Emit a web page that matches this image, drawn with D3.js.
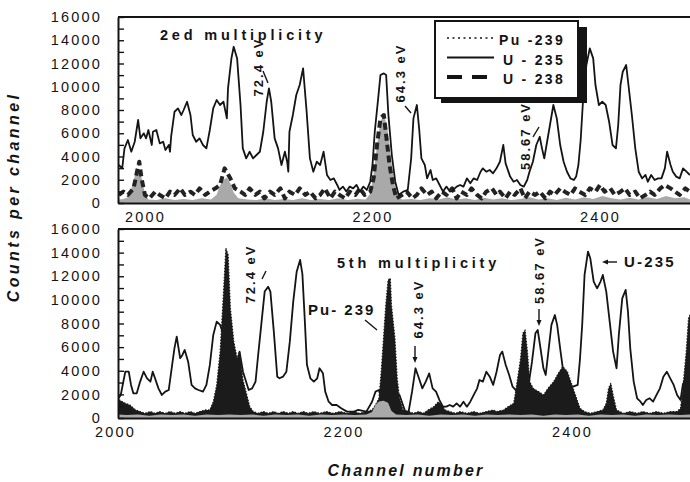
<!DOCTYPE html>
<html>
<head>
<meta charset="utf-8">
<script src="https://cdn.jsdelivr.net/npm/d3@7/dist/d3.min.js"></script>
<style>
  body { margin: 0; background: #fff; }
  svg { display: block; font-family: "Liberation Sans", Arial, sans-serif; }
</style>
</head>
<body>
<div id="vis"></div>
<script>
////////////////////////////////////////
//////////////// Data //////////////////
////////////////////////////////////////

// [channel, counts]

// 2ed multiplicity
const topU235 = [[1977,3270],[1980,2980],[1982,4700],[1985,5420],[1988,4410],[1991,5270],[1994,7140],[1996,5560],[1999,5990],[2001,5560],[2003,6280],[2006,4990],[2007,6130],[2010,6280],[2013,5130],[2016,5270],[2018,4560],[2021,4990],[2022,4410],[2023,5700],[2026,7850],[2029,8140],[2032,7570],[2034,8000],[2037,8710],[2040,7570],[2042,5850],[2045,5270],[2048,5560],[2051,4990],[2054,4700],[2057,6280],[2060,8140],[2063,8860],[2066,8430],[2069,8710],[2072,7280],[2073,9860],[2076,12440],[2078,13440],[2081,12440],[2084,8430],[2086,4700],[2089,3840],[2092,4410],[2095,3840],[2098,4130],[2101,4410],[2104,6130],[2107,8710],[2109,9860],[2111,8710],[2114,5560],[2117,4700],[2120,3270],[2123,4410],[2125,3550],[2126,2690],[2127,6130],[2130,7570],[2133,9290],[2136,10150],[2139,11580],[2142,8000],[2145,3840],[2148,2690],[2151,3550],[2154,3270],[2157,4410],[2160,2410],[2163,1980],[2166,2120],[2169,1550],[2171,1120],[2174,1410],[2177,980],[2180,1410],[2183,1260],[2186,1550],[2189,980],[2192,1410],[2195,1120],[2198,1830],[2200,3270],[2202,6130],[2205,9000],[2207,11010],[2210,11150],[2212,11010],[2214,7570],[2217,4130],[2220,1830],[2223,690],[2227,980],[2231,1120],[2234,3840],[2236,7280],[2239,8430],[2241,6420],[2243,3840],[2246,3270],[2248,2120],[2251,2840],[2253,1980],[2256,2120],[2259,1550],[2262,980],[2265,1410],[2268,980],[2271,1120],[2274,1410],[2277,1550],[2280,1410],[2283,2120],[2286,1690],[2289,2120],[2292,1980],[2295,2690],[2297,2980],[2300,2690],[2303,2840],[2306,2550],[2309,2980],[2312,3550],[2315,4990],[2317,3410],[2321,2270],[2324,1830],[2327,1980],[2330,1550],[2333,1410],[2336,1980],[2338,2690],[2341,3550],[2344,4990],[2347,5700],[2349,4700],[2351,3840],[2353,4990],[2356,6710],[2359,8430],[2362,7280],[2365,4990],[2368,3550],[2371,2690],[2374,2120],[2377,1980],[2379,2270],[2381,3270],[2383,5420],[2385,8710],[2388,11870],[2391,13300],[2394,12440],[2396,10150],[2399,8430],[2402,8710],[2405,8430],[2408,6990],[2411,4990],[2414,4700],[2416,6710],[2418,10150],[2420,11290],[2423,11870],[2425,10150],[2428,7570],[2431,4700],[2434,2690],[2437,2120],[2440,2410],[2442,1830],[2445,2410],[2448,1980],[2451,2120],[2454,2120],[2457,2980],[2459,4410],[2462,3270],[2464,2690],[2467,2270],[2470,2120],[2473,2980],[2476,2690],[2479,2410]];

const topPu239 = [[1977,300],[1981,350],[1985,500],[1988,1200],[1991,2300],[1994,2800],[1997,2200],[2000,800],[2003,300],[2010,250],[2018,400],[2026,250],[2034,350],[2042,250],[2050,400],[2058,300],[2063,700],[2066,1500],[2069,2000],[2072,2200],[2075,1700],[2078,900],[2082,400],[2090,300],[2098,250],[2106,400],[2114,250],[2122,350],[2130,250],[2138,400],[2146,250],[2154,350],[2162,250],[2170,400],[2178,250],[2186,350],[2194,300],[2198,800],[2201,2500],[2204,5000],[2207,7000],[2210,7600],[2213,6500],[2216,4000],[2219,1800],[2222,600],[2226,300],[2234,350],[2242,250],[2250,400],[2258,300],[2266,500],[2274,300],[2282,400],[2290,250],[2298,450],[2306,300],[2314,400],[2322,250],[2330,350],[2338,500],[2346,300],[2354,400],[2362,250],[2370,450],[2378,300],[2386,500],[2394,350],[2402,600],[2410,400],[2418,300],[2426,450],[2434,300],[2442,500],[2450,350],[2458,600],[2466,400],[2474,500],[2479,300]];

const topU238 = [[1977,690],[1981,975],[1985,690],[1990,1260],[1993,2690],[1995,3550],[1997,2120],[2000,690],[2004,400],[2009,975],[2013,690],[2018,400],[2022,975],[2026,690],[2031,1260],[2035,690],[2040,975],[2044,690],[2048,1260],[2053,690],[2057,975],[2062,1260],[2066,1550],[2070,2980],[2075,2120],[2079,1260],[2084,975],[2088,690],[2092,1260],[2097,690],[2101,975],[2105,400],[2110,975],[2114,690],[2119,1260],[2123,400],[2127,975],[2132,690],[2136,1260],[2141,690],[2145,975],[2150,400],[2154,690],[2158,1260],[2163,400],[2167,975],[2171,690],[2176,400],[2180,975],[2185,690],[2189,1260],[2193,690],[2198,975],[2201,2120],[2204,4990],[2207,7280],[2210,7570],[2213,4990],[2215,3270],[2218,1550],[2221,400],[2226,690],[2230,975],[2235,400],[2239,690],[2243,1260],[2248,690],[2252,975],[2256,400],[2261,975],[2265,690],[2270,1260],[2274,400],[2278,975],[2283,690],[2287,1260],[2292,690],[2296,400],[2300,975],[2305,1260],[2309,690],[2312,975],[2317,400],[2321,975],[2325,690],[2330,1260],[2334,400],[2338,975],[2343,690],[2347,975],[2352,400],[2356,975],[2360,690],[2365,1260],[2369,975],[2374,690],[2378,1260],[2382,975],[2387,690],[2391,1260],[2396,975],[2400,1550],[2404,975],[2409,1260],[2413,690],[2418,975],[2422,1260],[2426,690],[2431,975],[2435,400],[2440,690],[2444,975],[2448,690],[2453,1260],[2457,1550],[2462,1260],[2466,975],[2470,690],[2475,1260],[2479,975]];

// 5th multiplicity
const botU235 = [[2003,1670],[2005,1950],[2009,3920],[2012,3920],[2014,2800],[2016,2090],[2019,2090],[2022,3080],[2025,3920],[2028,3360],[2031,3080],[2033,3920],[2035,3360],[2038,2510],[2041,1950],[2044,2230],[2047,2370],[2050,4490],[2052,5900],[2054,6890],[2057,5060],[2059,5340],[2061,5760],[2064,4770],[2067,2800],[2070,2510],[2073,2370],[2077,2230],[2080,2800],[2083,4490],[2086,7030],[2089,8160],[2092,7880],[2095,7030],[2101,5060],[2105,3920],[2109,5620],[2112,3920],[2117,2370],[2120,2510],[2123,3080],[2125,5060],[2128,7880],[2131,10700],[2134,11120],[2136,10700],[2139,7310],[2142,3500],[2144,3360],[2147,3500],[2150,3920],[2153,6460],[2156,9850],[2159,12390],[2162,13380],[2164,12200],[2166,8500],[2168,4500],[2171,3360],[2174,3080],[2177,3360],[2179,4210],[2182,3780],[2184,2230],[2187,1380],[2190,1100],[2194,1100],[2198,820],[2203,540],[2209,540],[2213,680],[2220,540],[2225,1380],[2228,2230],[2231,2370],[2233,1670],[2241,1400],[2249,1950],[2254,540],[2257,540],[2260,2230],[2263,4210],[2266,3360],[2269,2510],[2272,3080],[2275,3780],[2278,2510],[2281,2230],[2284,1520],[2287,960],[2290,960],[2293,1100],[2296,960],[2299,1240],[2302,960],[2305,1380],[2308,960],[2311,1380],[2314,1950],[2317,2510],[2319,3220],[2322,3080],[2325,3920],[2328,3500],[2331,2800],[2334,3920],[2337,5340],[2339,5620],[2342,4490],[2345,3640],[2348,2650],[2352,2230],[2357,2000],[2362,2800],[2365,4770],[2368,7170],[2370,7450],[2372,6180],[2375,4210],[2377,3640],[2379,5340],[2382,7880],[2385,8720],[2387,7880],[2390,5620],[2392,4210],[2397,2800],[2401,2650],[2405,2800],[2407,5000],[2409,8000],[2411,12110],[2414,14090],[2416,13530],[2419,11550],[2422,10980],[2425,11550],[2427,12110],[2430,10700],[2433,8160],[2436,5620],[2439,4210],[2441,7030],[2444,10130],[2447,10840],[2449,9000],[2451,5900],[2454,3080],[2457,1670],[2460,1380],[2462,1100],[2465,1520],[2468,1670],[2471,1380],[2474,1950],[2477,2510],[2480,3500],[2483,3920],[2486,3360],[2489,2800],[2492,1950],[2495,1520],[2497,2800],[2500,3500],[2503,4500]];

const botPu239 = [[2001,1380],[2004,1520],[2009,1240],[2013,1100],[2018,680],[2022,540],[2026,400],[2031,540],[2035,400],[2039,540],[2044,400],[2048,540],[2053,400],[2057,540],[2061,400],[2066,540],[2070,400],[2074,540],[2079,680],[2083,680],[2086,1380],[2089,2800],[2092,5620],[2095,10700],[2097,14370],[2099,13810],[2101,9290],[2104,6460],[2107,5000],[2109,5620],[2112,3220],[2115,2090],[2118,960],[2121,540],[2125,400],[2130,540],[2134,400],[2139,540],[2143,400],[2147,540],[2152,400],[2156,540],[2160,400],[2165,540],[2169,400],[2174,540],[2179,400],[2185,540],[2191,400],[2197,540],[2203,400],[2209,540],[2214,400],[2220,540],[2225,680],[2228,1100],[2231,1670],[2233,3920],[2235,6750],[2237,9570],[2239,11690],[2241,11830],[2242,9570],[2245,6750],[2247,3360],[2249,1670],[2252,680],[2257,540],[2261,400],[2266,540],[2270,400],[2274,680],[2279,960],[2283,1380],[2286,1100],[2289,680],[2293,540],[2298,400],[2302,540],[2308,400],[2314,540],[2319,400],[2325,540],[2331,680],[2334,540],[2340,680],[2344,960],[2349,1240],[2352,3080],[2355,5060],[2357,7170],[2359,7450],[2361,5620],[2363,3080],[2366,2510],[2371,2230],[2375,1950],[2379,2510],[2384,3080],[2388,3780],[2392,4350],[2396,3920],[2400,2800],[2404,1670],[2407,820],[2411,540],[2416,400],[2422,540],[2427,680],[2430,1240],[2432,2510],[2434,2940],[2436,1950],[2439,680],[2445,400],[2451,540],[2457,400],[2462,540],[2468,400],[2474,540],[2480,400],[2486,540],[2492,540],[2495,820],[2497,2500],[2500,5620],[2502,8440],[2504,8900]];

const botU238 = [[2003,300],[2010,250],[2020,300],[2030,200],[2040,300],[2050,250],[2060,300],[2070,200],[2080,300],[2090,250],[2100,300],[2110,250],[2120,300],[2130,200],[2140,300],[2150,250],[2160,300],[2170,200],[2180,300],[2190,250],[2200,300],[2210,250],[2220,300],[2225,500],[2228,1100],[2231,1400],[2235,1450],[2239,1300],[2242,600],[2246,300],[2255,250],[2265,300],[2275,200],[2285,300],[2295,250],[2305,300],[2315,200],[2325,300],[2335,250],[2345,300],[2355,250],[2365,300],[2375,200],[2385,300],[2395,250],[2405,300],[2415,200],[2425,300],[2435,250],[2445,300],[2455,200],[2465,300],[2475,250],[2485,300],[2495,250],[2504,300]];

const yTicks = d3.range(0, 16001, 1000);
const xTicks = [2000, 2200, 2400];
const legendItems = ["Pu -239", "U - 235", "U - 238"];

////////////////////////////////////////
////////////// SVG Setup ///////////////
////////////////////////////////////////

const W = 690, H = 482;
const plotLeft = 118, plotRight = 690;
const ink = "#141414";
const grey = "#a9a9a9";

const svg = d3.select("#vis").append("svg")
  .attr("width", W)
  .attr("height", H);

svg.append("rect").attr("width", W).attr("height", H).attr("fill", "#fff");

const panels = [
  {
    id: "p1", top: 17, bottom: 203, domain: [1976.3, 2479.1],
    title: "2ed multiplicity", titleX: 160, titleY: 40,
    layers: [
      { data: topPu239, fill: grey },
      { data: topU238, stroke: "#222", width: 4, dash: "7,4" },
      { data: topU235, stroke: ink, width: 1.8 }
    ]
  },
  {
    id: "p2", top: 229, bottom: 418, domain: [2002.6, 2503.3],
    title: "5th multiplicity", titleX: 337, titleY: 268,
    layers: [
      { data: botU235, stroke: ink, width: 1.8 },
      { data: botPu239, fill: "#1b1b1b", stroke: "#1b1b1b", width: 1.2, dash: "1.5,1.5" },
      { data: botU238, fill: grey }
    ]
  }
];

////////////////////////////////////////
////////////// Panels //////////////////
////////////////////////////////////////

panels.forEach((p) => {
  const x = d3.scaleLinear().domain(p.domain).range([plotLeft, plotRight]);
  const y = d3.scaleLinear().domain([0, 16000]).range([p.bottom, p.top]);

  const g = svg.append("g");

  g.append("clipPath").attr("id", "clip-" + p.id)
    .append("rect")
    .attr("x", plotLeft).attr("y", p.top)
    .attr("width", plotRight - plotLeft).attr("height", p.bottom - p.top);

  const plot = g.append("g").attr("clip-path", `url(#clip-${p.id})`);

  const area = d3.area().x((d) => x(d[0])).y0(y(0)).y1((d) => y(d[1]));
  const line = d3.line().x((d) => x(d[0])).y((d) => y(d[1]));

  p.layers.forEach((l) => {
    if (l.fill) {
      plot.append("path").datum(l.data).attr("d", area).attr("fill", l.fill);
    }
    if (l.stroke) {
      plot.append("path").datum(l.data)
        .attr("d", line)
        .attr("fill", "none")
        .attr("stroke", l.stroke)
        .attr("stroke-width", l.width)
        .attr("stroke-dasharray", l.dash || null)
        .attr("stroke-linejoin", "round");
    }
  });

  // top frame line
  g.append("line")
    .attr("x1", plotLeft).attr("x2", plotRight)
    .attr("y1", p.top).attr("y2", p.top)
    .attr("stroke", ink).attr("stroke-width", 1.8);

  // y axis, ticks inside every 1000, labels every 2000
  const yAxis = g.append("g")
    .attr("transform", `translate(${plotLeft},0)`)
    .call(d3.axisLeft(y).tickValues(yTicks).tickSize(-6).tickSizeOuter(0)
      .tickPadding(16).tickFormat((d) => (d % 2000 ? "" : d)));

  // x axis
  const xAxis = g.append("g")
    .attr("transform", `translate(0,${p.bottom})`)
    .call(d3.axisBottom(x).tickValues(xTicks).tickSize(0).tickPadding(9)
      .tickFormat(d3.format("d")));

  [yAxis, xAxis].forEach((a) => {
    a.select(".domain").attr("stroke", ink).attr("stroke-width", 2);
    a.selectAll(".tick line").attr("stroke", ink).attr("stroke-width", 1.4);
    a.selectAll(".tick text")
      .attr("fill", ink)
      .style("font-family", '"Liberation Sans", Arial, sans-serif')
      .style("font-size", "14.5px")
      .style("letter-spacing", "2.2px");
  });

  g.append("text")
    .attr("x", p.titleX).attr("y", p.titleY)
    .attr("fill", ink)
    .style("font-size", "14.5px").style("font-weight", "bold")
    .style("letter-spacing", "3.8px")
    .text(p.title);
});

////////////////////////////////////////
//////////// Annotations ///////////////
////////////////////////////////////////

function vLabel(text, cx, cy, size, spacing) {
  svg.append("text")
    .attr("transform", `translate(${cx},${cy}) rotate(-90)`)
    .attr("text-anchor", "middle")
    .attr("dominant-baseline", "central")
    .attr("fill", ink)
    .style("font-size", size + "px").style("font-weight", "bold")
    .style("letter-spacing", spacing + "px")
    .text(text);
}

function stroke(x1, y1, x2, y2) {
  svg.append("line")
    .attr("x1", x1).attr("y1", y1).attr("x2", x2).attr("y2", y2)
    .attr("stroke", ink).attr("stroke-width", 1.4);
}

function arrowHead(x, y, dir) {
  // dir: "down" or "left"
  const pts = dir === "down"
    ? [[x, y], [x - 2.5, y - 6], [x + 2.5, y - 6]]
    : [[x, y], [x + 6, y - 2.5], [x + 6, y + 2.5]];
  svg.append("path").attr("d", d3.line()(pts) + "Z").attr("fill", ink);
}

// top panel
vLabel("72.4 eV", 258, 67, 13, 2);
stroke(263, 71, 268, 83);
vLabel("64.3 eV", 400, 73, 13, 2);
stroke(405, 106, 411, 113);
vLabel("58.67 eV", 525, 136, 13, 2);
stroke(533, 137, 539, 127);

// bottom panel
vLabel("72.4 eV", 250, 274, 13, 2);
stroke(262, 279, 266, 271);
svg.append("text").attr("x", 308).attr("y", 315)
  .attr("fill", ink).style("font-size", "15px").style("font-weight", "bold")
  .style("letter-spacing", "2px").text("Pu- 239");
stroke(365, 320, 377, 330);
vLabel("64.3 eV", 418, 309, 13, 2);
stroke(415, 346, 415, 357);
arrowHead(415, 363, "down");
vLabel("58.67 eV", 539, 270, 13, 2);
stroke(539, 309, 539, 320);
arrowHead(539, 326, "down");
stroke(617, 262, 606, 262);
arrowHead(602, 262, "left");
svg.append("text").attr("x", 624).attr("y", 267)
  .attr("fill", ink).style("font-size", "15px").style("font-weight", "bold")
  .style("letter-spacing", "2.2px").text("U-235");

////////////////////////////////////////
////////////// Legend //////////////////
////////////////////////////////////////

const legend = svg.append("g");
legend.append("rect")
  .attr("x", 441).attr("y", 27).attr("width", 146).attr("height", 76)
  .attr("fill", ink);
legend.append("rect")
  .attr("x", 435).attr("y", 21).attr("width", 143).attr("height", 77)
  .attr("fill", "#fff").attr("stroke", ink).attr("stroke-width", 2);

const legendStyles = [
  { width: 1.6, dash: "2,3.5" },
  { width: 1.8, dash: null },
  { width: 4, dash: "15,10" }
];
legendItems.forEach((name, i) => {
  const yy = 38 + i * 19.5;
  legend.append("line")
    .attr("x1", 447).attr("x2", 494).attr("y1", yy).attr("y2", yy)
    .attr("stroke", ink)
    .attr("stroke-width", legendStyles[i].width)
    .attr("stroke-dasharray", legendStyles[i].dash);
  legend.append("text")
    .attr("x", 565).attr("y", yy + 2)
    .attr("text-anchor", "end")
    .attr("dominant-baseline", "central")
    .attr("fill", ink)
    .style("font-size", "14px").style("font-weight", "bold")
    .style("letter-spacing", "2.3px")
    .text(name);
});

////////////////////////////////////////
//////////// Axis titles ///////////////
////////////////////////////////////////

svg.append("text")
  .attr("transform", "translate(13,197) rotate(-90)")
  .attr("text-anchor", "middle")
  .attr("dominant-baseline", "central")
  .attr("fill", ink)
  .style("font-size", "16px").style("font-weight", "bold").style("font-style", "italic")
  .style("letter-spacing", "3.4px")
  .text("Counts per channel");

svg.append("text")
  .attr("x", 406).attr("y", 476)
  .attr("text-anchor", "middle")
  .attr("fill", ink)
  .style("font-size", "16px").style("font-weight", "bold").style("font-style", "italic")
  .style("letter-spacing", "2.2px")
  .text("Channel number");
</script>
</body>
</html>
